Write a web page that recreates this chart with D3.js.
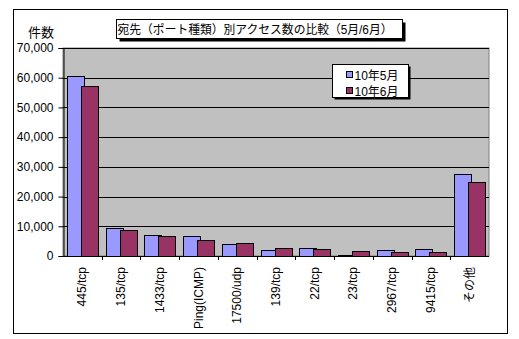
<!DOCTYPE html>
<html>
<head>
<meta charset="utf-8">
<script src="https://cdn.jsdelivr.net/npm/d3@7"></script>
<style>
  body { margin: 0; background: #fff; }
  svg text { font-family: "Liberation Sans", Arial, "Noto Sans CJK JP", sans-serif; }
</style>
</head>
<body>
<svg id="chart" width="519" height="339"></svg>
<script>
// Destination ports and monthly access counts
const categories = ["445/tcp", "135/tcp", "1433/tcp", "Ping(ICMP)", "17500/udp", "139/tcp", "22/tcp", "23/tcp", "2967/tcp", "9415/tcp", "その他"];
const seriesNames = ["10年5月", "10年6月"];
const may = [60600, 9300, 7000, 6600, 3900, 2100, 2700, 300, 1900, 2300, 27600];
const june = [57200, 8700, 6600, 5300, 4300, 2700, 2200, 1600, 1200, 1200, 24900];
const yTicks = [0, 10000, 20000, 30000, 40000, 50000, 60000, 70000];
const colors = ["#9999ff", "#993366"];
const title = "宛先（ポート種類）別アクセス数の比較（5月/6月）";
const yTitle = "件数";

const svg = d3.select("#chart");
const plot = { left: 63, right: 489, top: 48, bottom: 256 };

// Outer chart border
svg.append("rect").attr("x", 13.5).attr("y", 9.5).attr("width", 494).attr("height", 324)
  .attr("fill", "#fff").attr("stroke", "#000");

const x = d3.scaleBand().domain(categories).range([plot.left, plot.right]);
const y = d3.scaleLinear().domain([0, 70000]).range([plot.bottom, plot.top]);

// Plot background
svg.append("rect").attr("x", plot.left).attr("y", plot.top)
  .attr("width", plot.right - plot.left).attr("height", plot.bottom - plot.top)
  .attr("fill", "#c0c0c0").attr("stroke", "#808080");

// Gridlines
svg.append("g").selectAll("line").data(yTicks.filter(d => d > 0)).join("line")
  .attr("x1", plot.left).attr("x2", plot.right)
  .attr("y1", d => Math.round(y(d)) + 0.5).attr("y2", d => Math.round(y(d)) + 0.5)
  .attr("stroke", "#000");

// Bars: second series overlaps the first
const barW = 17, offset = 14;
const groupW = offset + barW;
[may, june].forEach((vals, si) => {
  svg.append("g").selectAll("rect").data(vals).join("rect")
    .attr("x", (d, i) => Math.round(x(categories[i]) + (x.bandwidth() - groupW) / 2 + si * offset) + 0.5)
    .attr("y", d => Math.round(y(d)) + 0.5)
    .attr("width", barW)
    .attr("height", d => Math.max(0, Math.round(y(0)) - Math.round(y(d))))
    .attr("fill", colors[si]).attr("stroke", "#000");
});

// Y axis
const yAxis = svg.append("g").attr("transform", `translate(${plot.left + 0.5},0)`)
  .call(d3.axisLeft(y).tickValues(yTicks).tickSize(5).tickPadding(5).tickFormat(d3.format(",")));
yAxis.select(".domain").attr("stroke", "#000");
yAxis.selectAll("text").attr("font-size", 12).attr("fill", "#000");

// X axis with ticks at category boundaries
svg.append("line").attr("x1", plot.left).attr("x2", plot.right)
  .attr("y1", plot.bottom + 0.5).attr("y2", plot.bottom + 0.5).attr("stroke", "#000");
svg.append("g").selectAll("line").data(categories.slice(1)).join("line")
  .attr("x1", d => Math.round(x(d)) + 0.5).attr("x2", d => Math.round(x(d)) + 0.5)
  .attr("y1", plot.bottom).attr("y2", plot.bottom + 4).attr("stroke", "#000");
svg.append("g").selectAll("text").data(categories).join("text")
  .attr("transform", d => `translate(${x(d) + x.bandwidth() / 2 + 4},${plot.bottom + 11}) rotate(-90)`)
  .attr("text-anchor", "end").attr("font-size", 12).attr("fill", "#000")
  .text(d => d);

// Axis title
svg.append("text").attr("x", 41).attr("y", 37).attr("text-anchor", "middle")
  .attr("font-size", 13).attr("font-family", "Noto Sans CJK JP").text(yTitle);

// Chart title box with shadow
const tb = { x: 116.5, y: 19.5, w: 286, h: 19 };
svg.append("rect").attr("x", tb.x + 3).attr("y", tb.y + 3).attr("width", tb.w).attr("height", tb.h).attr("fill", "#000");
svg.append("rect").attr("x", tb.x).attr("y", tb.y).attr("width", tb.w).attr("height", tb.h)
  .attr("fill", "#fff").attr("stroke", "#000");
svg.append("text").attr("x", tb.x + 1).attr("y", tb.y + 14.5)
  .attr("font-size", 12).attr("font-family", "Noto Sans CJK JP")
  .attr("textLength", 275).attr("lengthAdjust", "spacingAndGlyphs")
  .text(title);

// Legend with shadow
const lg = { x: 332.5, y: 64.5, w: 76, h: 33 };
svg.append("rect").attr("x", lg.x + 2).attr("y", lg.y + 2).attr("width", lg.w).attr("height", lg.h).attr("fill", "#000");
svg.append("rect").attr("x", lg.x).attr("y", lg.y).attr("width", lg.w).attr("height", lg.h)
  .attr("fill", "#fff").attr("stroke", "#000");
seriesNames.forEach((name, i) => {
  const cy = lg.y + 10 + i * 16;
  svg.append("rect").attr("x", lg.x + 14).attr("y", cy - 3).attr("width", 6).attr("height", 6)
    .attr("fill", colors[i]).attr("stroke", "#000");
  svg.append("text").attr("x", lg.x + 22).attr("y", cy + 5)
    .attr("font-size", 12).attr("font-family", "Noto Sans CJK JP").text(name);
});
</script>
</body>
</html>
